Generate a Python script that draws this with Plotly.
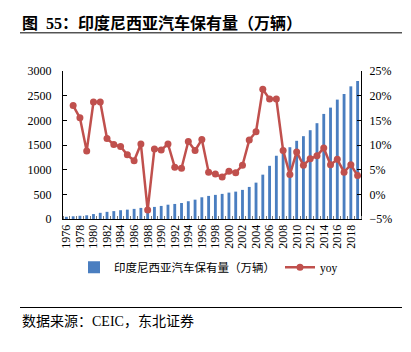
import plotly.graph_objects as go

years = list(range(1976, 2020))
stock = [45, 55, 65, 75, 100, 125, 145, 160, 178, 190, 205, 225, 218, 245, 265,
         290, 305, 325, 360, 392, 440, 468, 489, 509, 535, 555, 590, 650, 737, 899,
         1078, 1282, 1396, 1455, 1585, 1679, 1800, 1942, 2130, 2258, 2420, 2534, 2689, 2797]
yoy = [None, 18.0, 15.5, 8.8, 18.7, 18.7, 11.3, 10.1, 9.7, 8.0, 6.8, 10.2, -3.2, 9.2, 9.0,
       10.2, 5.5, 5.3, 10.7, 8.9, 11.1, 4.5, 4.1, 3.5, 4.7, 4.4, 5.9, 11.0, 12.7, 21.3,
       19.3, 19.3, 8.9, 4.0, 8.6, 5.9, 7.2, 7.8, 9.4, 6.0, 7.1, 4.5, 6.0, 3.8]
xtick_years = list(range(1976, 2019, 2))

bar_name = "印度尼西亚汽车保有量（万辆）"
line_name = "yoy"
title_text = "<b>图&nbsp;&nbsp;55：印度尼西亚汽车保有量（万辆）</b>"
source_text = "数据来源：CEIC，东北证券"

W, H = 411, 352
L, R, T, B = 63, 50, 71, 132.5
pw, ph = W - L - R, H - T - B


def px_x(p):
    return (p - L) / pw


def px_y(p):
    return (H - B - p) / ph


FONT = "Liberation Serif, Noto Sans CJK SC, serif"

fig = go.Figure()
fig.add_trace(go.Bar(x=years, y=stock, name=bar_name, width=0.42,
                     marker=dict(color="#4a7ec0", line=dict(width=0)), yaxis="y"))
fig.add_trace(go.Scatter(x=years, y=yoy, name=line_name, mode="lines+markers",
                         line=dict(color="#C0504D", width=2.5),
                         marker=dict(color="#C0504D", size=7), yaxis="y2"))

fig.update_layout(
    width=W, height=H,
    margin=dict(l=L, r=R, t=T, b=B),
    paper_bgcolor="white", plot_bgcolor="white",
    font=dict(family=FONT, size=12, color="#000"),
    showlegend=True,
    legend=dict(orientation="h", x=px_x(74), xanchor="left", y=px_y(268), yanchor="middle",
                font=dict(size=11.5, family=FONT), bgcolor="rgba(0,0,0,0)",
                itemwidth=30, traceorder="normal"),
    xaxis=dict(range=[1975.5, 2019.5], tickmode="array", tickvals=xtick_years,
               ticktext=[str(y) for y in xtick_years], tickangle=-90,
               ticks="", showline=True, linecolor="#000", linewidth=1,
               showgrid=False, zeroline=False, tickfont=dict(size=12, family=FONT),
               minor=dict(ticks="inside", tick0=1975.5, dtick=1, ticklen=3,
                          tickcolor="#777", tickwidth=1, showgrid=False)),
    yaxis=dict(range=[0, 3000], dtick=500, ticks="inside", ticklen=4, tickcolor="#000",
               showline=True, linecolor="#000", linewidth=1, showgrid=False, zeroline=False,
               tickfont=dict(size=12, family=FONT), ticklabelstandoff=8),
    yaxis2=dict(range=[-5, 25], dtick=5, ticksuffix="%", overlaying="y", side="right",
                ticks="inside", ticklen=4, tickcolor="#000", showline=True, linecolor="#000",
                linewidth=1, showgrid=False, zeroline=False,
                tickfont=dict(size=12, family=FONT), ticklabelstandoff=5),
    bargap=0.5,
)

fig.add_annotation(text=title_text, xref="paper", yref="paper", x=px_x(20), y=px_y(22.5),
                   xanchor="left", yanchor="middle", showarrow=False,
                   font=dict(size=16, family=FONT, color="#000"))
fig.add_annotation(text=source_text, xref="paper", yref="paper", x=px_x(20), y=px_y(322),
                   xanchor="left", yanchor="middle", showarrow=False,
                   font=dict(size=14, family=FONT, color="#000"))
fig.add_shape(type="line", xref="paper", yref="paper", x0=px_x(20), x1=px_x(402),
              y0=px_y(32.7), y1=px_y(32.7), line=dict(color="#000", width=1))
fig.add_shape(type="line", xref="paper", yref="paper", x0=px_x(20), x1=px_x(402),
              y0=px_y(308.3), y1=px_y(308.3), line=dict(color="#000", width=1))

fig.write_html("out.html")
